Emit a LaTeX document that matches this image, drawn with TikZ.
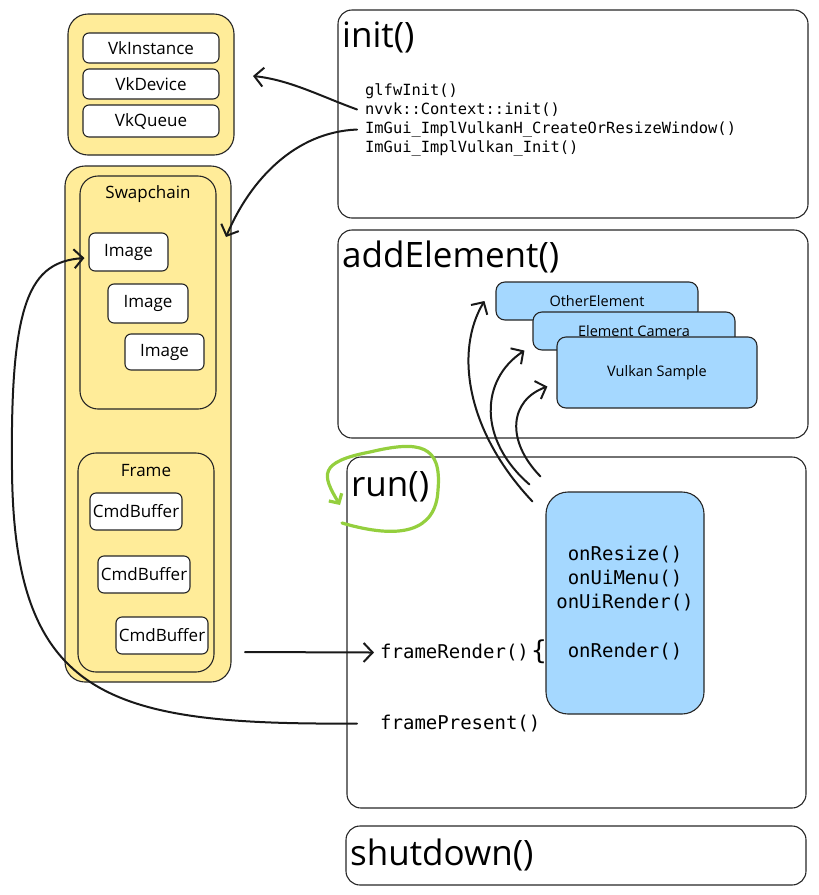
\documentclass[tikz,border=0pt]{standalone}
\usepackage{fontspec}
\setmainfont{Open Sans}
\setmonofont{DejaVu Sans Mono}
\usetikzlibrary{arrows.meta,positioning,calc}

\definecolor{paleyellow}{HTML}{FFEC99}
\definecolor{paleblue}{HTML}{A5D8FF}
\definecolor{loopgreen}{HTML}{94CF3E}

\newcommand\handlbl{\fontsize{17}{20}\selectfont}
\newcommand\handsmall{\fontsize{14.5}{17}\selectfont}
\newcommand\handbig{\fontsize{35}{40}\selectfont}
\newcommand\initcode{\ttfamily\fontsize{15.4}{19.3}\selectfont}
\newcommand\runcode{\ttfamily\fontsize{19}{24.3}\selectfont}

\tikzset{
  panel/.style={draw=black!85, line width=1.1pt, rounded corners=14pt, inner sep=0pt},
  holder/.style={panel, fill=paleyellow, rounded corners=20pt},
  group/.style={panel, rounded corners=18pt},
  item/.style={draw=black!85, line width=1.1pt, fill=white, rounded corners=6pt, inner sep=0pt, font=\handlbl},
  elem/.style={item, fill=paleblue, font=\handsmall, rounded corners=9pt},
  title/.style={anchor=base west, inner sep=0pt, font=\handbig},
  code/.style={anchor=base west, inner sep=0pt, font=\initcode},
  link/.style={draw=black!90, line width=2pt, line cap=round, -{Straight Barb[length=9pt,width=19pt]}},
  loopback/.style={draw=loopgreen, line width=3.2pt, line cap=round, -{Straight Barb[length=7pt,width=15pt]}}
}

\begin{document}
\begin{tikzpicture}[x=1pt,y=-1pt]
	\path[use as bounding box] (0,0) rectangle (819,895);

	% vulkan objects
	\node (core) [holder, minimum width=166pt, minimum height=141pt] at (151,84.5) {};
	\node (inst) [item, minimum width=136pt, minimum height=30pt] at (151,48) {VkInstance};
	\node (dev) [item, minimum width=136pt, minimum height=30pt] at (151,84) {VkDevice};
	\node (queue) [item, minimum width=136pt, minimum height=32pt] at (151,121) {VkQueue};

	\node (window) [holder, minimum width=166pt, minimum height=516pt] at (148,424) {};
	\node (swap) [group, minimum width=136pt, minimum height=233pt] at (148,292.5) {};
	\node (swaplbl) [font=\handlbl] at (148,194) {Swapchain};
	\node (img1) [item, minimum width=79pt, minimum height=38pt] at (128.5,252) {Image};
	\node (img2) [item, minimum width=80pt, minimum height=39pt] at (148,303.5) {Image};
	\node (img3) [item, minimum width=79pt, minimum height=36pt] at (164.5,352) {Image};

	\node (frame) [group, minimum width=136pt, minimum height=219pt] at (146,562.5) {};
	\node (framelbl) [font=\handlbl] at (146,471) {Frame};
	\node (cmd1) [item, minimum width=92pt, minimum height=37pt] at (136,511.5) {CmdBuffer};
	\node (cmd2) [item, minimum width=92pt, minimum height=37pt] at (144,574.5) {CmdBuffer};
	\node (cmd3) [item, minimum width=92pt, minimum height=37pt] at (162,635.5) {CmdBuffer};

	% application stages
	\node (init) [panel, minimum width=470pt, minimum height=208pt] at (573,114) {};
	\node (inittitle) [title] at (342,47) {init()};
	\node (glfw) [code] at (365,95) {glfwInit()};
	\node (ctx) [code] at (365,114.3) {nvvk::Context::init()};
	\node (imwin) [code] at (365,133.6) {ImGui\_ImplVulkanH\_CreateOrResizeWindow()};
	\node (imvk) [code] at (365,152.9) {ImGui\_ImplVulkan\_Init()};

	\node (add) [panel, minimum width=470pt, minimum height=208pt] at (573,334) {};
	\node (addtitle) [title] at (342,267) {addElement()};
	\node (other) [elem, minimum width=202pt, minimum height=38pt] at (597,301) {OtherElement};
	\node (camera) [elem, minimum width=202pt, minimum height=38pt] at (634,331) {Element Camera};
	\node (vulkan) [elem, minimum width=200pt, minimum height=71pt] at (657,372.5) {Vulkan Sample};

	\node (run) [panel, minimum width=459pt, minimum height=351pt] at (576.5,632.5) {};
	\node (runtitle) [title] at (351,496) {run()};
	\node (blue) [panel, fill=paleblue, rounded corners=22pt, minimum width=158pt, minimum height=222pt,
		align=center, font=\runcode] at (625,603) {onResize()\\onUiMenu()\\onUiRender()\\[24.3pt]onRender()};
	\node (render) [code, font=\runcode] at (380,658.5) {frameRender()};
	\node (brace) [font=\ttfamily\fontsize{26}{30}\selectfont] at (539,652) {\{};
	\node (present) [code, font=\runcode] at (380,729.5) {framePresent()};

	\node (shutdown) [panel, minimum width=460pt, minimum height=59pt] at (576,855.5) {};
	\node (shuttitle) [title] at (350,865) {shutdown()};

	\coordinate (devtip) at (253,76);
	\coordinate (swaptip) at (226,237);
	\coordinate (cmdout) at (245,652);

	% connectors
	\draw[link] ([xshift=-8pt]ctx.west) .. controls (320,96) and (290,80) .. (devtip);
	\draw[link] ([xshift=-8pt]imwin.west) .. controls (295,132) and (250,180) .. (swaptip);
	\draw[link, shorten >=6pt] (cmdout) -- (render.west);
	\draw[link] ([xshift=-23pt]present.west) .. controls (110,725) and (14,700) .. (12,470)
		.. controls (10,300) and (30,262) .. ([xshift=-4pt,yshift=-6pt]img1.west);
	\draw[link] ([shift={(-13,10)}]blue.north west) .. controls (465,430) and (455,350) .. ([xshift=-11pt]other.west);
	\draw[link] ([shift={(-16,-7)}]blue.north west) .. controls (478,440) and (480,380) .. ([xshift=-8pt]camera.south west);
	\draw[link] ([shift={(-5,-15)}]blue.north west) .. controls (505,440) and (510,400) .. ([xshift=-9pt,yshift=-14pt]vulkan.west);
	\draw[loopback] ([shift={(-9,27)}]runtitle.base west) .. controls (400,540) and (436,532) .. (438,490)
		.. controls (442,445) and (420,440) .. (370,452) .. controls (318,462) and (322,475) .. (340,505);
\end{tikzpicture}
\end{document}
